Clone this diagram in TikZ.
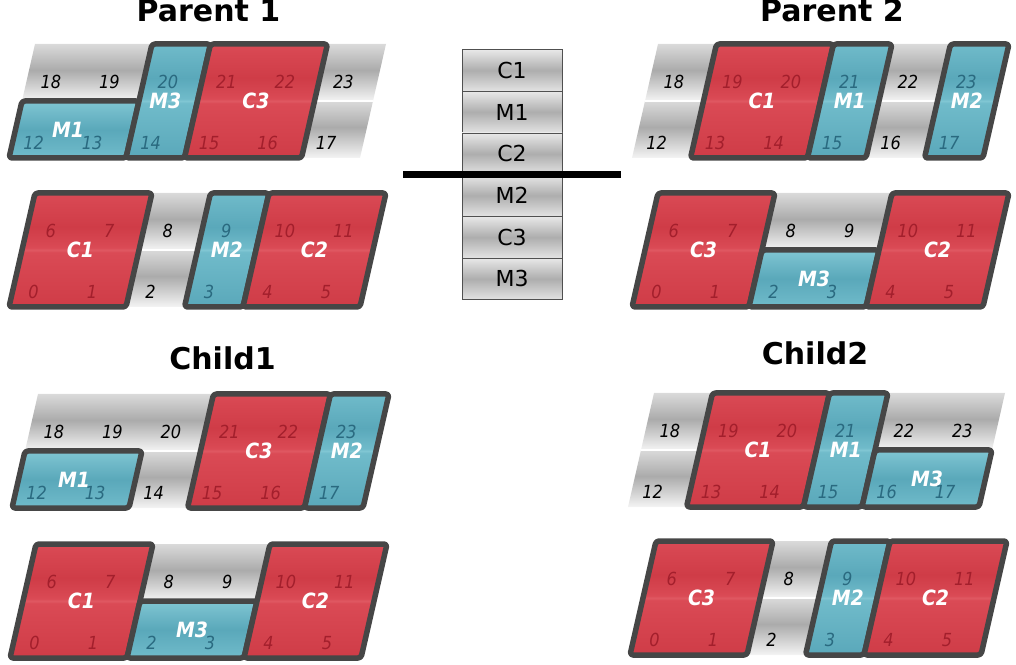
\documentclass[tikz,border=0pt]{standalone}
\usepackage{fontspec}
\setmainfont{DejaVu Sans}
\newfontfamily\cellfont[FakeStretch=0.9]{DejaVu Sans}
\usetikzlibrary{calc,positioning}

\definecolor{outline}{HTML}{464646}
\definecolor{boxline}{HTML}{505050}
\definecolor{redtop}{HTML}{DA4A55}
\definecolor{redmid}{HTML}{CF3C47}
\definecolor{redhi}{HTML}{E05A64}
\definecolor{bluetop}{HTML}{70BBCA}
\definecolor{bluemid}{HTML}{5AA8BA}
\definecolor{bluehi}{HTML}{80C6D3}
\definecolor{graytop}{HTML}{DADADA}
\definecolor{graymid}{HTML}{ABABAB}
\definecolor{graybot}{HTML}{F4F4F4}
\definecolor{numred}{HTML}{A31F2C}
\definecolor{numblue}{HTML}{2A6A80}

\pgfdeclareverticalshading{redfill}{100bp}{color(0bp)=(redmid); color(25bp)=(redmid); color(49bp)=(redtop); color(50bp)=(redhi); color(51bp)=(redtop); color(60bp)=(redmid); color(75bp)=(redtop); color(100bp)=(redtop)}
\pgfdeclareverticalshading{bluefill}{100bp}{color(0bp)=(bluemid); color(25bp)=(bluemid); color(49bp)=(bluetop); color(50bp)=(bluehi); color(51bp)=(bluetop); color(60bp)=(bluemid); color(75bp)=(bluetop); color(100bp)=(bluetop)}
\pgfdeclareverticalshading{blueone}{100bp}{color(0bp)=(bluetop); color(25bp)=(bluetop); color(50bp)=(bluemid); color(75bp)=(bluehi); color(100bp)=(bluehi)}
\pgfdeclareverticalshading{grayfill}{100bp}{color(0bp)=(graybot); color(25bp)=(graybot); color(52bp)=(graymid); color(75bp)=(graytop); color(100bp)=(graytop)}

% gray background of one chromosome panel (6 columns, 2 rows)
\newcommand{\grayband}{%
  \path[grayrow] (0,0) -- (6,0) -- (6,1) -- (0,1) -- cycle;
  \path[grayrow] (0,1) -- (6,1) -- (6,2) -- (0,2) -- cycle;
  \draw[white, line width=1.6pt] (0,1) -- (6,1);}

% numbers of one row: panel, first number, row, styles
\newcommand{\cellrow}[4]{%
  \foreach \k [count=\i] in {#4} {
    \pgfmathtruncatemacro{\n}{#2+\i-1}
    \node[\k] (#1-\n) at ({\i-1+0.36+0.06*#3}, {0.27+1.06*#3}) {\n};
  }}

\begin{document}
\begin{tikzpicture}[inner sep=0pt, outer sep=0pt, x=1pt, y=1pt,
    title/.style={font=\bfseries\fontsize{30}{36}\selectfont, anchor=base},
    blockline/.style={draw=outline, line width=5.5pt, rounded corners=3pt, line join=round, shade},
    redblock/.style={blockline, shading=redfill},
    blueblock/.style={blockline, shading=bluefill},
    bluerow/.style={blockline, shading=blueone},
    grayrow/.style={shade, shading=grayfill},
    lab/.style={text=white, font=\cellfont\bfseries\itshape\fontsize{21}{24}\selectfont},
    gnum/.style={text=black, font=\cellfont\itshape\fontsize{18}{20}\selectfont},
    rnum/.style={gnum, text=numred},
    bnum/.style={gnum, text=numblue},
    genebox/.style={draw=boxline, line width=0.8pt, minimum width=100pt, minimum height=41.7pt,
      top color=black!9, bottom color=black!11, middle color=black!32,
      font=\fontsize{22}{26}\selectfont},
    cutline/.style={line width=6.5pt}]
    \useasboundingbox (0,0) rectangle (1016,664);

    % Parent 1
    \node[title] (parent1) at (208.5,642) {Parent 1};
    \begin{scope}[shift={(9pt,506pt)}, x={(58.5pt,0pt)}, y={(13pt,57pt)}]
    \grayband
    \draw[bluerow] (0,0) -- (2,0) -- (2,1) -- (0,1) -- cycle;
    \draw[blueblock] (2,0) -- (3,0) -- (3,2) -- (2,2) -- cycle;
    \draw[redblock] (3,0) -- (5,0) -- (5,2) -- (3,2) -- cycle;
    \node[lab] (p1a-m1) at (0.9,0.5) {M1};
    \node[lab] (p1a-m3) at (2.45,1) {M3};
    \node[lab] (p1a-c3) at (4,1) {C3};
    \cellrow{p1a}{12}{0}{bnum,bnum,bnum,rnum,rnum,gnum}
    \cellrow{p1a}{18}{1}{gnum,gnum,bnum,rnum,rnum,gnum}
    \end{scope}
    \begin{scope}[shift={(9pt,357pt)}, x={(58.5pt,0pt)}, y={(13pt,57pt)}]
    \grayband
    \draw[redblock] (0,0) -- (2,0) -- (2,2) -- (0,2) -- cycle;
    \draw[blueblock] (3,0) -- (4,0) -- (4,2) -- (3,2) -- cycle;
    \draw[redblock] (4,0) -- (6,0) -- (6,2) -- (4,2) -- cycle;
    \node[lab] (p1b-c1) at (1,1) {C1};
    \node[lab] (p1b-m2) at (3.5,1) {M2};
    \node[lab] (p1b-c2) at (5,1) {C2};
    \cellrow{p1b}{0}{0}{rnum,rnum,gnum,bnum,rnum,rnum}
    \cellrow{p1b}{6}{1}{rnum,rnum,gnum,bnum,rnum,rnum}
    \end{scope}

    % Parent 2
    \node[title] (parent2) at (832,642) {Parent 2};
    \begin{scope}[shift={(632pt,506pt)}, x={(58.5pt,0pt)}, y={(13pt,57pt)}]
    \grayband
    \draw[redblock] (1,0) -- (3,0) -- (3,2) -- (1,2) -- cycle;
    \draw[blueblock] (3,0) -- (4,0) -- (4,2) -- (3,2) -- cycle;
    \draw[blueblock] (5,0) -- (6,0) -- (6,2) -- (5,2) -- cycle;
    \node[lab] (p2a-c1) at (2,1) {C1};
    \node[lab] (p2a-m1) at (3.5,1) {M1};
    \node[lab] (p2a-m2) at (5.5,1) {M2};
    \cellrow{p2a}{12}{0}{gnum,rnum,rnum,bnum,gnum,bnum}
    \cellrow{p2a}{18}{1}{gnum,rnum,rnum,bnum,gnum,bnum}
    \end{scope}
    \begin{scope}[shift={(632pt,357pt)}, x={(58.5pt,0pt)}, y={(13pt,57pt)}]
    \grayband
    \draw[redblock] (0,0) -- (2,0) -- (2,2) -- (0,2) -- cycle;
    \draw[bluerow] (2,0) -- (4,0) -- (4,1) -- (2,1) -- cycle;
    \draw[redblock] (4,0) -- (6,0) -- (6,2) -- (4,2) -- cycle;
    \node[lab] (p2b-c3) at (1,1) {C3};
    \node[lab] (p2b-m3) at (3,0.5) {M3};
    \node[lab] (p2b-c2) at (5,1) {C2};
    \cellrow{p2b}{0}{0}{rnum,rnum,bnum,bnum,rnum,rnum}
    \cellrow{p2b}{6}{1}{rnum,rnum,gnum,gnum,rnum,rnum}
    \end{scope}

    % gene order and cut point
    \node[genebox] (g-c1) at (512,593.6) {C1};
    \node[genebox, below=0pt of g-c1] (g-m1) {M1};
    \node[genebox, below=0pt of g-m1] (g-c2) {C2};
    \node[genebox, below=0pt of g-c2] (g-m2) {M2};
    \node[genebox, below=0pt of g-m2] (g-c3) {C3};
    \node[genebox, below=0pt of g-c3] (g-m3) {M3};
    \coordinate (cut-l) at ($(g-c2.south west)+(-59,0)$);
    \coordinate (cut-r) at ($(g-c2.south east)+(59,0)$);
    \draw[cutline] (cut-l) -- (cut-r);

    % Child 1
    \node[title] (child1) at (222.5,294) {Child1};
    \begin{scope}[shift={(12pt,156pt)}, x={(58.5pt,0pt)}, y={(13pt,57pt)}]
    \grayband
    \draw[bluerow] (0,0) -- (2,0) -- (2,1) -- (0,1) -- cycle;
    \draw[redblock] (3,0) -- (5,0) -- (5,2) -- (3,2) -- cycle;
    \draw[blueblock] (5,0) -- (6,0) -- (6,2) -- (5,2) -- cycle;
    \node[lab] (c1a-m1) at (0.95,0.5) {M1};
    \node[lab] (c1a-c3) at (4,1) {C3};
    \node[lab] (c1a-m2) at (5.5,1) {M2};
    \cellrow{c1a}{12}{0}{bnum,bnum,gnum,rnum,rnum,bnum}
    \cellrow{c1a}{18}{1}{gnum,gnum,gnum,rnum,rnum,bnum}
    \end{scope}
    \begin{scope}[shift={(10pt,6pt)}, x={(58.5pt,0pt)}, y={(13pt,57pt)}]
    \grayband
    \draw[redblock] (0,0) -- (2,0) -- (2,2) -- (0,2) -- cycle;
    \draw[bluerow] (2,0) -- (4,0) -- (4,1) -- (2,1) -- cycle;
    \draw[redblock] (4,0) -- (6,0) -- (6,2) -- (4,2) -- cycle;
    \node[lab] (c1b-c1) at (1,1) {C1};
    \node[lab] (c1b-m3) at (3,0.5) {M3};
    \node[lab] (c1b-c2) at (5,1) {C2};
    \cellrow{c1b}{0}{0}{rnum,rnum,bnum,bnum,rnum,rnum}
    \cellrow{c1b}{6}{1}{rnum,rnum,gnum,gnum,rnum,rnum}
    \end{scope}

    % Child 2
    \node[title] (child2) at (815,299) {Child2};
    \begin{scope}[shift={(628pt,157pt)}, x={(58.5pt,0pt)}, y={(13pt,57pt)}]
    \grayband
    \draw[redblock] (1,0) -- (3,0) -- (3,2) -- (1,2) -- cycle;
    \draw[blueblock] (3,0) -- (4,0) -- (4,2) -- (3,2) -- cycle;
    \draw[bluerow] (4,0) -- (6,0) -- (6,1) -- (4,1) -- cycle;
    \node[lab] (c2a-c1) at (2,1) {C1};
    \node[lab] (c2a-m1) at (3.5,1) {M1};
    \node[lab] (c2a-m3) at (5,0.5) {M3};
    \cellrow{c2a}{12}{0}{gnum,rnum,rnum,bnum,bnum,bnum}
    \cellrow{c2a}{18}{1}{gnum,rnum,rnum,bnum,gnum,gnum}
    \end{scope}
    \begin{scope}[shift={(630pt,9pt)}, x={(58.5pt,0pt)}, y={(13pt,57pt)}]
    \grayband
    \draw[redblock] (0,0) -- (2,0) -- (2,2) -- (0,2) -- cycle;
    \draw[blueblock] (3,0) -- (4,0) -- (4,2) -- (3,2) -- cycle;
    \draw[redblock] (4,0) -- (6,0) -- (6,2) -- (4,2) -- cycle;
    \node[lab] (c2b-c3) at (1,1) {C3};
    \node[lab] (c2b-m2) at (3.5,1) {M2};
    \node[lab] (c2b-c2) at (5,1) {C2};
    \cellrow{c2b}{0}{0}{rnum,rnum,gnum,bnum,rnum,rnum}
    \cellrow{c2b}{6}{1}{rnum,rnum,gnum,bnum,rnum,rnum}
    \end{scope}
\end{tikzpicture}
\end{document}
